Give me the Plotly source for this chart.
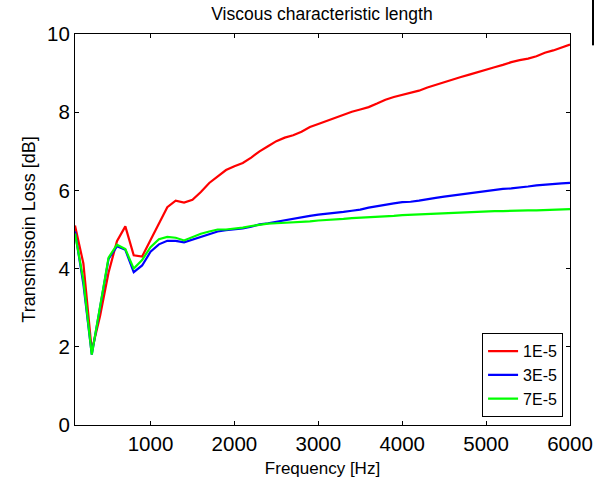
import plotly.graph_objects as go

# Frequency axis [Hz]
freq = list(range(100, 6001, 100))

# Transmission loss [dB] for three viscous characteristic lengths
tl_1e5 = [5.10, 4.13, 1.90, 2.80, 3.90, 4.70, 5.08, 4.34, 4.31, 4.72,
          5.15, 5.57, 5.74, 5.69, 5.76, 5.96, 6.19, 6.36, 6.52, 6.62,
          6.70, 6.84, 7.00, 7.13, 7.26, 7.35, 7.41, 7.50, 7.62, 7.70,
          7.78, 7.86, 7.95, 8.01, 8.07, 8.13, 8.22, 8.32, 8.39, 8.44,
          8.49, 8.55, 8.63, 8.70, 8.76, 8.83, 8.90, 8.96, 9.03, 9.09,
          9.15, 9.21, 9.28, 9.33, 9.37, 9.43, 9.52, 9.58, 9.65, 9.73]
tl_3e5 = [4.95, 3.60, 1.80, 3.00, 4.25, 4.57, 4.48, 3.91, 4.08, 4.43,
          4.62, 4.71, 4.71, 4.67, 4.74, 4.82, 4.89, 4.95, 4.98, 5.00,
          5.03, 5.07, 5.13, 5.16, 5.20, 5.23, 5.27, 5.32, 5.35, 5.38,
          5.40, 5.42, 5.45, 5.48, 5.51, 5.56, 5.60, 5.64, 5.67, 5.70,
          5.71, 5.74, 5.78, 5.81, 5.84, 5.87, 5.90, 5.93, 5.96, 5.98,
          6.01, 6.04, 6.05, 6.07, 6.10, 6.13, 6.15, 6.17, 6.18, 6.19]
tl_7e5 = [4.90, 3.70, 1.80, 3.05, 4.28, 4.61, 4.50, 4.00, 4.22, 4.55,
          4.75, 4.81, 4.79, 4.72, 4.81, 4.89, 4.95, 5.00, 5.00, 5.02,
          5.05, 5.09, 5.12, 5.15, 5.16, 5.17, 5.18, 5.20, 5.21, 5.23,
          5.24, 5.26, 5.27, 5.29, 5.30, 5.32, 5.33, 5.34, 5.35, 5.37,
          5.38, 5.39, 5.40, 5.40, 5.41, 5.42, 5.43, 5.44, 5.45, 5.46,
          5.47, 5.47, 5.48, 5.48, 5.49, 5.49, 5.50, 5.51, 5.51, 5.52]

series_names = ["1E-5", "3E-5", "7E-5"]
series_colors = ["#ff0000", "#0000ff", "#00ff00"]

x_ticks = [1000, 2000, 3000, 4000, 5000, 6000]
y_ticks = [0, 2, 4, 6, 8, 10]

FONT = "Liberation Sans, Arial, sans-serif"

fig = go.Figure()
for name, vals, col in zip(series_names, [tl_1e5, tl_3e5, tl_7e5], series_colors):
    fig.add_trace(go.Scatter(x=freq, y=vals, mode="lines", name=name,
                             line=dict(color=col, width=2.2)))

axis_common = dict(showgrid=False, zeroline=False, showline=True, linecolor="black",
                   linewidth=1, mirror="ticks", ticks="inside", ticklen=4,
                   tickcolor="black", automargin=False,
                   tickfont=dict(family=FONT, size=20.5, color="black"))

fig.update_layout(
    width=604, height=480,
    margin=dict(l=75, r=34, t=34, b=55),
    paper_bgcolor="white", plot_bgcolor="white",
    font=dict(family=FONT, color="black"),
    title=dict(text="Viscous characteristic length", x=0.533, xanchor="center",
               y=0.971, yanchor="middle", font=dict(family=FONT, size=17.5, color="black")),
    xaxis=dict(range=[100, 6000], tickvals=x_ticks,
               title=dict(text="Frequency [Hz]", font=dict(family=FONT, size=17), standoff=8),
               **axis_common),
    yaxis=dict(range=[0, 10], tickvals=y_ticks,
               title=dict(text="Transmissoin Loss [dB]", font=dict(family=FONT, size=18), standoff=6),
               **axis_common),
    legend=dict(x=0.986, y=0.02, xanchor="right", yanchor="bottom",
                bgcolor="white", bordercolor="black", borderwidth=1,
                font=dict(family=FONT, size=16, color="black"),
                tracegroupgap=0, itemwidth=30),
    showlegend=True,
)

# Thin vertical stroke at the top-right edge of the page
fig.add_shape(type="line", xref="paper", yref="paper",
              x0=1.0465, x1=1.0465, y0=0.971, y1=1.09,
              line=dict(color="black", width=2))

fig.write_html("out.html")
